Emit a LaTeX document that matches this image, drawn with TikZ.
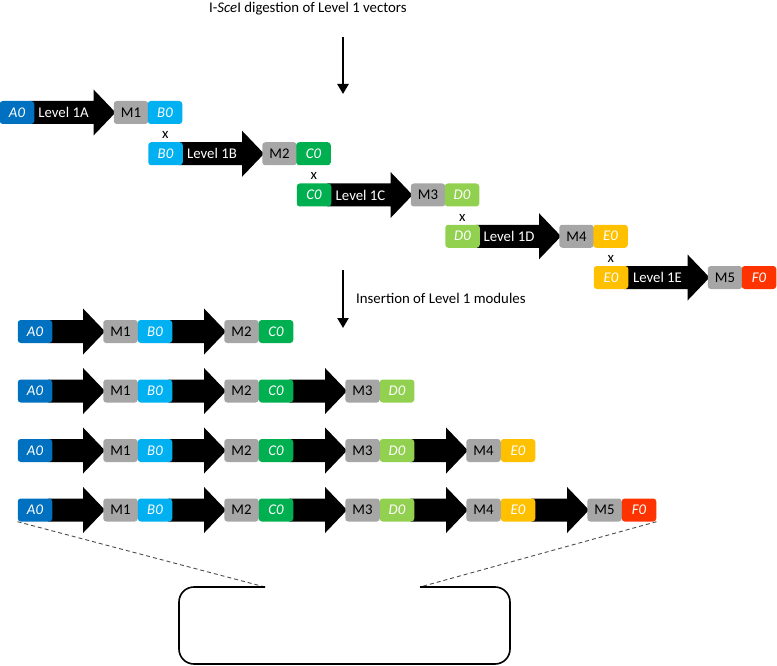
\documentclass[tikz,border=0pt]{standalone}
\usepackage{fontspec}
\setmainfont{Carlito}
\usetikzlibrary{backgrounds,calc,arrows.meta}
\definecolor{cA}{HTML}{0070C0}
\definecolor{cB}{HTML}{00B0F0}
\definecolor{cC}{HTML}{00B050}
\definecolor{cD}{HTML}{92D050}
\definecolor{cE}{HTML}{FFC000}
\definecolor{cF}{HTML}{FF3300}
\definecolor{cM}{HTML}{A6A6A6}
\newcommand\diagfont{\fontsize{14.8}{17}\selectfont}
\tikzset{
  partbox/.style={minimum width=34.5pt, minimum height=23pt, inner sep=0pt, rounded corners=3pt, font=\diagfont},
  tagbox/.style={partbox, fill=#1, text=white, font=\diagfont\itshape},
  modbox/.style={partbox, fill=cM, text=black},
  lvltext/.style={text=white, inner sep=0pt, font=\diagfont},
  crosstext/.style={inner sep=0pt, font=\diagfont},
  notetext/.style={anchor=west, inner sep=0pt, font=\diagfont},
  downarrow/.style={line width=2.6pt, -{Triangle[width=11pt,length=10pt]}},
  zoomline/.style={dashed, black!70, line width=0.9pt, dash pattern=on 4pt off 3pt},
  framebox/.style={line width=1.6pt, rounded corners=15pt}
}
\newcommand\blockarrow[2]{%
  \path (#1.east) coordinate (baS) (#2.west) coordinate (baE);
  \fill let \p1=(baS), \p2=(baE) in
  (\x1-4pt,\y1+11.5pt) -- (\x2-20pt,\y1+11.5pt) -- (\x2-20pt,\y1+23pt) -- (\x2+2pt,\y1)
  -- (\x2-20pt,\y1-23pt) -- (\x2-20pt,\y1-11.5pt) -- (\x1-4pt,\y1-11.5pt) -- cycle;}
\begin{document}
\begin{tikzpicture}[x=1pt,y=-1pt]
\useasboundingbox (0,0) rectangle (777,666);
% title and first arrow
\node[notetext] (title) at (209,9) {I-\textit{Sce}I digestion of Level 1 vectors};
\coordinate (d1s) at (343,37);
\coordinate (d1e) at (343,94);
\draw[downarrow] (d1s) -- (d1e);
% level 1 vectors
\foreach \i/\la/\lb [count=\q] in {0/A/B,1/B/C,2/C/D,3/D/E,4/E/F}{
  \pgfmathsetmacro\xx{17+148.5*\i}
  \pgfmathsetmacro\yy{112.5+41.25*\i}
  \node[tagbox=c\la] (T\q a) at (\xx,\yy) {\la0};
  \node[modbox] (T\q m) at ({\xx+114},\yy) {M\q};
  \node[tagbox=c\lb] (T\q b) at ({\xx+148},\yy) {\lb0};
  \node[lvltext] (T\q l) at ({\xx+46.5},\yy) {Level 1\la};
}
\foreach \q [evaluate=\q as \w using int(\q+1)] in {1,...,4}{
  \node[crosstext] (x\q) at ($(T\q b)!0.5!(T\w a)+(0,2)$) {x};
}
% second arrow
\coordinate (d2s) at (343,270);
\coordinate (d2e) at (343,328);
\draw[downarrow] (d2s) -- (d2e);
\node[notetext] (insert) at (356,298) {Insertion of Level 1 modules};
% level 2 assemblies
\foreach \r in {1,...,4}{
  \pgfmathsetmacro\yy{331.5+59.5*(\r-1)}
  \pgfmathtruncatemacro\kmax{\r+1}
  \node[tagbox=cA] (L\r t0) at (35,\yy) {A0};
  \foreach \k/\lt in {1/B,2/C,3/D,4/E,5/F}{
    \ifnum\k>\kmax\relax\else
      \node[modbox] (L\r m\k) at ({120.5+121*(\k-1)},\yy) {M\k};
      \node[tagbox=c\lt] (L\r t\k) at ({155+121*(\k-1)},\yy) {\lt0};
    \fi
  }
}
\begin{scope}[on background layer]
  \foreach \q in {1,...,5}{\blockarrow{T\q a}{T\q m}}
  \foreach \r in {1,...,4}{
    \pgfmathtruncatemacro\kmax{\r+1}
    \foreach \k in {1,...,\kmax}{
      \pgfmathtruncatemacro\kp{\k-1}
      \blockarrow{L\r t\kp}{L\r m\k}
    }
  }
\end{scope}
% zoom-out frame
\coordinate (bxl) at (265,587);
\coordinate (bxr) at (420,587);
\draw[zoomline] (L4t0.south west) -- (bxl);
\draw[zoomline] (L4t5.south east) -- (bxr);
\draw[framebox] (bxl) -- (179,587) -- (179,664) -- (510,664) -- (510,587) -- (bxr);
\end{tikzpicture}
\end{document}
